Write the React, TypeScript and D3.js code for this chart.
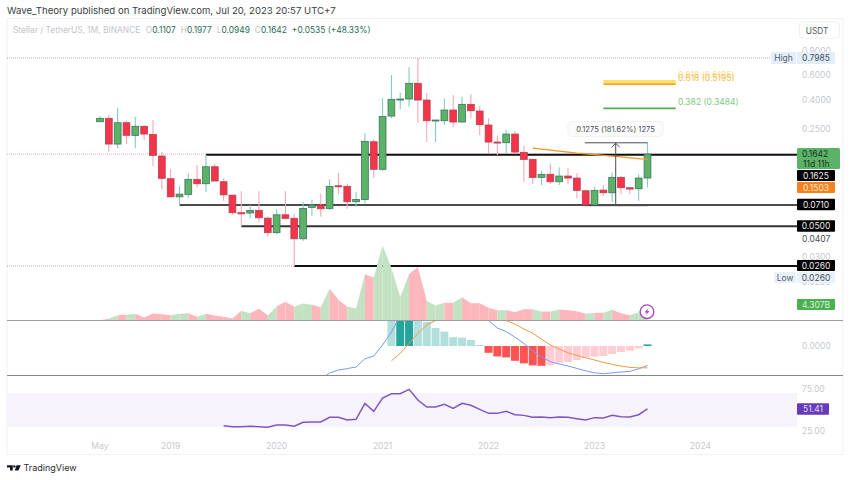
import React from "react";
import * as d3 from "d3";

// ---- data (monthly, May 2018 .. Jul 2023) ----
const opens = [0.2796,0.2957,0.1936,0.2751,0.2235,0.2592,0.2272,0.1589,0.1094,0.0812,0.0845,0.1083,0.1007,0.1332,0.1041,0.0835,0.0625,0.0622,0.0650,0.0572,0.0450,0.0604,0.0570,0.0407,0.0683,0.0709,0.0671,0.0974,0.0965,0.0749,0.0778,0.2011,0.1277,0.3071,0.4018,0.4064,0.5263,0.3997,0.2829,0.2843,0.3390,0.2783,0.3724,0.3335,0.2649,0.2001,0.1979,0.2283,0.1689,0.1505,0.1119,0.1176,0.1041,0.1143,0.1106,0.0897,0.0709,0.0907,0.0868,0.1119,0.0943,0.0927,0.1107];
const highs = [0.3071,0.3122,0.3521,0.2843,0.3036,0.2649,0.2876,0.1706,0.1277,0.0969,0.1195,0.1364,0.1625,0.1393,0.1101,0.0835,0.0892,0.0709,0.0892,0.0585,0.0664,0.0892,0.0618,0.0749,0.0778,0.0859,0.1083,0.1207,0.1013,0.0882,0.2310,0.2093,0.4112,0.6034,0.4509,0.6849,0.7985,0.4509,0.2876,0.4085,0.4320,0.4221,0.4413,0.3621,0.2957,0.2209,0.2439,0.2399,0.1873,0.1520,0.1248,0.1393,0.1319,0.1298,0.1195,0.0897,0.0958,0.0985,0.1207,0.1149,0.0953,0.1176,0.1977];
const lows = [0.2783,0.1706,0.1804,0.1936,0.1804,0.2068,0.1348,0.0918,0.0812,0.0709,0.0799,0.0949,0.0878,0.1053,0.0761,0.0604,0.0502,0.0570,0.0530,0.0421,0.0438,0.0560,0.0260,0.0393,0.0592,0.0585,0.0653,0.0849,0.0667,0.0690,0.0729,0.1101,0.1248,0.2957,0.3429,0.3579,0.2751,0.2001,0.2001,0.2649,0.2550,0.2751,0.2987,0.2235,0.1661,0.1615,0.1661,0.1661,0.1041,0.1002,0.0985,0.1002,0.0985,0.1002,0.0791,0.0709,0.0709,0.0822,0.0745,0.0849,0.0849,0.0761,0.0949];
const closes = [0.2957,0.1936,0.2751,0.2235,0.2592,0.2283,0.1607,0.1101,0.0812,0.0849,0.1083,0.1007,0.1332,0.1053,0.0839,0.0625,0.0614,0.0650,0.0575,0.0450,0.0604,0.0570,0.0407,0.0671,0.0709,0.0667,0.0965,0.0958,0.0749,0.0778,0.2024,0.1277,0.3056,0.4044,0.4064,0.5263,0.3997,0.2843,0.2876,0.3390,0.2783,0.3724,0.3351,0.2662,0.2001,0.1968,0.2283,0.1697,0.1505,0.1119,0.1176,0.1041,0.1143,0.1106,0.0903,0.0709,0.0903,0.0868,0.1119,0.0943,0.0923,0.1106,0.1642];
// volume in billions
const volumes = [0.05,0.45,1.43,1.53,1.80,0.81,1.88,1.69,1.43,1.80,1.96,1.00,1.80,1.35,1.00,0.54,2.61,1.96,3.15,1.43,3.77,5.03,3.69,4.57,4.22,3.58,8.53,5.57,3.69,3.31,12.45,11.55,20.18,14.1,6.33,12.5,14.4,5.25,4.04,4.75,4.75,6.27,4.65,4.65,3.4,2.77,2.77,2.23,3.04,3.04,2.42,2.42,2.96,2.77,2.50,1.80,2.07,2.07,2.88,1.96,1.43,2.23,4.307];
// MACD histogram from bar 33, MACD line from bar 25, signal from bar 33
const histStart = 33;
const histValues = [0.15,0.20,0.23,0.21,0.12,0.09,0.072,0.044,0.042,0.03,0.005,-0.034,-0.052,-0.057,-0.074,-0.087,-0.097,-0.099,-0.098,-0.084,-0.08,-0.07,-0.057,-0.053,-0.05,-0.04,-0.03,-0.024,-0.012,0.008];
const macdStart = 25;
const macdValues = [-0.165,-0.135,-0.12,-0.113,-0.105,-0.064,-0.05,0.005,0.07,0.15,0.25,0.33,0.38,0.40,0.40,0.38,0.35,0.30,0.22,0.127,0.09,0.072,0.044,0.013,-0.024,-0.054,-0.079,-0.09,-0.10,-0.112,-0.124,-0.134,-0.139,-0.134,-0.13,-0.127,-0.114,-0.097];
const signalStart = 33;
const signalValues = [-0.074,-0.037,0.013,0.063,0.105,0.127,0.16,0.19,0.22,0.24,0.24,0.22,0.18,0.127,0.109,0.085,0.064,0.034,0.005,-0.015,-0.034,-0.047,-0.059,-0.07,-0.082,-0.092,-0.10,-0.107,-0.109,-0.109];
const rsiStart = 14;
const rsiValues = [31.3,30.2,30.2,30.6,30.2,29.4,32.1,32.1,30.6,35.3,35.7,35.7,41.3,41.3,38.1,38.9,57.9,48.4,64.3,69.4,69.4,74.6,61.9,53.6,53.6,56.8,52,57.9,55.6,50.8,46,46,48.4,44.4,43.6,41.3,41.7,40.9,41.7,41.3,39.7,38.1,40.9,40.5,43.6,42,41.7,44.4,51.41];
const emaStart = 49;
const emaValues = [0.1813,0.1783,0.1754,0.1726,0.1697,0.1670,0.1651,0.1630,0.1609,0.1589,0.1569,0.1544,0.1522,0.1503];

const timeTicks = [{ i: 0, t: "May" }, { i: 8, t: "2019" }, { i: 20, t: "2020" }, { i: 32, t: "2021" }, { i: 44, t: "2022" }, { i: 56, t: "2023" }, { i: 68, t: "2024" }];
const priceTicks = [0.9, 0.6, 0.4, 0.25, 0.03, 0.02];
const supportLevels = [
  { price: 0.1625, from: 12, w: 2, c: "#111" },
  { price: 0.071, from: 9, w: 1.5, c: "#111" },
  { price: 0.05, from: 16, w: 2, c: "#333" },
  { price: 0.026, from: 22, w: 2, c: "#111" },
];
const ohlcLabels = [["O", "0.1107"], ["H", "0.1977"], ["L", "0.0949"], ["C", "0.1642"]];

const FONT = "Inter, 'Noto Sans', sans-serif";
const AXIS_X = 797;
const LEFT = 7;
const RIGHT = 843;
const SEP1 = 320.5;
const SEP2 = 375.5;

const x = d3.scaleLinear().domain([0, 62]).range([100, 647.5]);
const py = d3.scaleLog().domain([0.7985, 0.026]).range([58, 266]);
const vy = d3.scaleLinear().domain([0, 4.307]).range([320.5, 304.5]);
const my = d3.scaleLinear().domain([0, 0.1]).range([346, 326]);
const ry = d3.scaleLinear().domain([25, 75]).range([431, 389]);

const lineFrom = (start: number, y: d3.ScaleContinuousNumeric<number, number>) =>
  d3.line<number>().x((_, i) => x(start + i)).y((d) => y(d));

const GREEN_BODY = "#5cb367", GREEN_EDGE = "#3a7560", GREEN_WICK = "#84ccbd";
const RED_BODY = "#f2354a", RED_EDGE = "#b93f52", RED_WICK = "#f9a7b0";
const TICK = "#c6c9cf";

function Badge({ x0, x1, cy, h = 11, fill, color, text }: any) {
  return (
    <g>
      <rect x={x0} y={cy - h / 2} width={x1 - x0} height={h} fill={fill} rx={1} />
      <text x={(x0 + x1) / 2} y={cy + 3} textAnchor="middle" fontSize={8.5} fill={color}>{text}</text>
    </g>
  );
}

export default function App() {
  const segArea = d3
    .area<{ i: number; v: number }>()
    .x((d) => x(d.i))
    .y0(vy(0))
    .y1((d) => vy(d.v));

  return (
    <svg width={850} height={480} style={{ position: "absolute", left: 0, top: 0, background: "#fff", fontFamily: FONT }}>
      <defs>
        <clipPath id="macdClip"><rect x={LEFT} y={SEP1} width={AXIS_X - LEFT} height={SEP2 - SEP1} /></clipPath>
      </defs>

      <text x={7} y={14} fontSize={9.6} fill="#3a3d44">Wave_Theory published on TradingView.com, Jul 20, 2023 20:57 UTC+7</text>
      <rect x={LEFT} y={18.5} width={RIGHT - LEFT} height={436} fill="#fff" stroke="#f0f1f3" />

      {/* legend */}
      <text x={13} y={33} fontSize={8.4}>
        <tspan fill="#c2c5cb">Stellar / TetherUS, 1M, BINANCE</tspan>
        {ohlcLabels.map(([k, v], i) => (
          <tspan key={k} dx={i === 0 ? 5.5 : 5}>
            <tspan fill="#c2c5cb">{k}</tspan>
            <tspan fill="#2c6b57">{v}</tspan>
          </tspan>
        ))}
        <tspan dx={5} fill="#2c6b57">+0.0535 (+48.33%)</tspan>
      </text>

      {/* RSI band */}
      <rect x={LEFT} y={ry(70)} width={AXIS_X - LEFT} height={ry(30) - ry(70)} fill="#f6f3fc" />

      {/* high / low / last dotted lines */}
      <line x1={LEFT} x2={771} y1={py(0.7985)} y2={py(0.7985)} stroke="#a9adb3" strokeDasharray="1 1" />
      <line x1={LEFT} x2={x(22)} y1={py(0.026)} y2={py(0.026)} stroke="#a9adb3" strokeDasharray="1 1" />
      <line x1={LEFT} x2={AXIS_X} y1={py(0.1642)} y2={py(0.1642)} stroke="#f7a9b0" strokeDasharray="1 1" />

      {/* horizontal supports */}
      {supportLevels.map((s) => (
        <line key={s.price} x1={x(s.from)} x2={AXIS_X} y1={py(s.price)} y2={py(s.price)} stroke={s.c} strokeWidth={s.w} />
      ))}

      {/* candles */}
      {closes.map((c, i) => {
        const o = opens[i];
        const up = c >= o;
        const top = py(Math.max(o, c));
        const bot = py(Math.min(o, c));
        return (
          <g key={i}>
            <line x1={x(i)} x2={x(i)} y1={py(highs[i])} y2={py(lows[i])} stroke={up ? GREEN_WICK : RED_WICK} strokeWidth={1.1} />
            <rect x={x(i) - 3.4} width={6.8} y={top} height={Math.max(bot - top, 1)} fill={up ? GREEN_BODY : RED_BODY} stroke={up ? GREEN_EDGE : RED_EDGE} strokeWidth={0.8} />
          </g>
        );
      })}

      {/* EMA */}
      <path d={lineFrom(emaStart, py)(emaValues) ?? ""} fill="none" stroke="#f7941d" strokeWidth={1.3} />

      {/* measure tool */}
      <g stroke="#4a4d55" strokeWidth={1} fill="none">
        <line x1={x(54.9)} x2={x(62)} y1={py(0.1977)} y2={py(0.1977)} />
        <line x1={x(54.9)} x2={x(62)} y1={py(0.0702)} y2={py(0.0702)} />
        <line x1={x(58.4)} x2={x(58.4)} y1={py(0.1977)} y2={py(0.0702)} />
        <path d={`M${x(58.4) - 4} ${py(0.1977) + 4.5}L${x(58.4)} ${py(0.1977) + 0.5}L${x(58.4) + 4} ${py(0.1977) + 4.5}`} />
      </g>
      <rect x={568} y={121.5} width={95} height={15} rx={4} fill="#fbfbfb" stroke="#f1f1f3" />
      <text x={615.5} y={132} textAnchor="middle" fontSize={7.6} fill="#4f5259">0.1275 (181.62%) 1275</text>

      {/* fib */}
      <line x1={x(57)} x2={x(65.2)} y1={81.6} y2={81.6} stroke="#ffe16b" strokeWidth={3} />
      <line x1={x(57)} x2={x(65.2)} y1={py(0.5195)} y2={py(0.5195)} stroke="#ff9f1a" strokeWidth={1.6} />
      <line x1={x(57)} x2={x(65.2)} y1={py(0.3484)} y2={py(0.3484)} stroke="#4caf50" strokeWidth={1.6} />
      <text x={678} y={78} fontSize={8.5} fill="#fde28a">0.618 (0.6195)</text>
      <text x={678} y={81} fontSize={8.5} fill="#f6bb55">0.618 (0.5195)</text>
      <text x={678} y={105} fontSize={8.5} fill="#7fc784">0.382 (0.3484)</text>

      {/* volume */}
      {volumes.slice(1).map((v, i) => (
        <path
          key={i}
          d={segArea([{ i, v: volumes[i] }, { i: i + 1, v }]) ?? ""}
          fill={closes[i + 1] >= opens[i + 1] ? "#c3e2c3" : "#fcb6bc"}
        />
      ))}
      <circle cx={x(62) - 0.5} cy={311.7} r={6.8} fill="#fff" stroke="#ab47bc" strokeWidth={1.3} />
      <path d={`M${x(62) + 1} 307.8L${x(62) - 3} 312.4H${x(62) - 0.6}L${x(62) - 1.8} 315.6L${x(62) + 2} 311H${x(62) - 0.4}Z`} fill="#ab47bc" />

      {/* MACD */}
      <g clipPath="url(#macdClip)">
        {histValues.map((v, i) => {
          const prev = i > 0 ? histValues[i - 1] : v;
          const rising = v > prev;
          const fill = v >= 0 ? (rising ? "#26a69a" : "#b2dfdb") : rising ? "#ffcdd2" : "#ff5252";
          const y0 = my(Math.max(v, 0));
          const y1 = my(Math.min(v, 0));
          return <rect key={i} x={x(histStart + i) - 4} width={8} y={y0} height={y1 - y0} fill={fill} />;
        })}
        <path d={lineFrom(macdStart, my)(macdValues) ?? ""} fill="none" stroke="#6f9cf6" strokeWidth={1} />
        <path d={lineFrom(signalStart, my)(signalValues) ?? ""} fill="none" stroke="#f7974a" strokeWidth={1} />
      </g>

      {/* RSI */}
      <path d={lineFrom(rsiStart, ry)(rsiValues) ?? ""} fill="none" stroke="#7e57c2" strokeWidth={1.5} />

      {/* separators */}
      <line x1={LEFT} x2={RIGHT} y1={SEP1} y2={SEP1} stroke="#9c9ea3" strokeWidth={1} />
      <line x1={LEFT} x2={RIGHT} y1={SEP2} y2={SEP2} stroke="#85878c" strokeWidth={1} />

      {/* price axis */}
      {priceTicks.map((p) => (
        <text key={p} x={802} y={py(p) + 3} fontSize={8.5} fill={TICK}>{p.toFixed(4)}</text>
      ))}
      <text x={802} y={py(0.0407) + 3} fontSize={8.5} fill="#4a4d55">0.0407</text>
      <text x={802} y={349} fontSize={8.5} fill={TICK}>0.0000</text>
      <text x={802} y={ry(75) + 3} fontSize={8.5} fill={TICK}>75.00</text>
      <text x={802} y={ry(25) + 3} fontSize={8.5} fill={TICK}>25.00</text>

      {/* USDT */}
      <rect x={799.5} y={22} width={40} height={16} rx={3} fill="#fff" stroke="#eef0f2" />
      <text x={817} y={33.5} textAnchor="middle" fontSize={8.3} fill="#555860">USDT</text>

      {/* high/low */}
      <rect x={771} y={52} width={25} height={12} fill="#e3eefb" />
      <text x={783.5} y={61} textAnchor="middle" fontSize={8.5} fill="#5a5d65">High</text>
      <Badge x0={797} x1={835} cy={58} h={12} fill="#e3eefb" color="#4a4d55" text="0.7985" />
      <rect x={774} y={272} width={22} height={11} fill="#e8f1fc" />
      <text x={785} y={280.5} textAnchor="middle" fontSize={8.5} fill="#5a5d65">Low</text>
      <Badge x0={797} x1={835} cy={277.5} fill="#e8f1fc" color="#4a4d55" text="0.0260" />

      {/* last price badge */}
      <rect x={797} y={148} width={43} height={21} rx={1.5} fill="#5cb367" />
      <text x={802} y={157} fontSize={8.5} fill="#12331f">0.1642</text>
      <text x={803} y={166.5} fontSize={8.5} fill="#12331f">11d 11h</text>
      <Badge x0={797} x1={835} cy={175.5} fill="#000" color="#eee" text="0.1625" />
      <Badge x0={797} x1={835} cy={187.5} fill="#f5811f" color="#fde9d3" text="0.1503" />
      <Badge x0={797} x1={835} cy={204.5} h={11.5} fill="#000" color="#eee" text="0.0710" />
      <Badge x0={797} x1={835} cy={226} h={11.5} fill="#000" color="#eee" text="0.0500" />
      <Badge x0={797} x1={835} cy={265.5} fill="#000" color="#eee" text="0.0260" />
      <Badge x0={797} x1={835} cy={304.5} fill="#4caf50" color="#d9f0da" text="4.307B" />
      <Badge x0={797} x1={829} cy={409} h={11.5} fill="#673ab7" color="#e6ddf5" text="51.41" />

      {/* time axis */}
      {timeTicks.map((t) => (
        <text key={t.t} x={x(t.i)} y={449} textAnchor="middle" fontSize={8.6} fill={TICK}>{t.t}</text>
      ))}

      {/* footer */}
      <path d="M7 465.2h5.8v5.4h-2.8v-3.2H7zM16.6 465.2h4.2l-2.4 5.4h-3.6z" fill="#131722" />
      <circle cx={14.4} cy={466.4} r={1.2} fill="#131722" />
      <text x={23.5} y={471} fontSize={9} fill="#2a2d35">TradingView</text>
    </svg>
  );
}
